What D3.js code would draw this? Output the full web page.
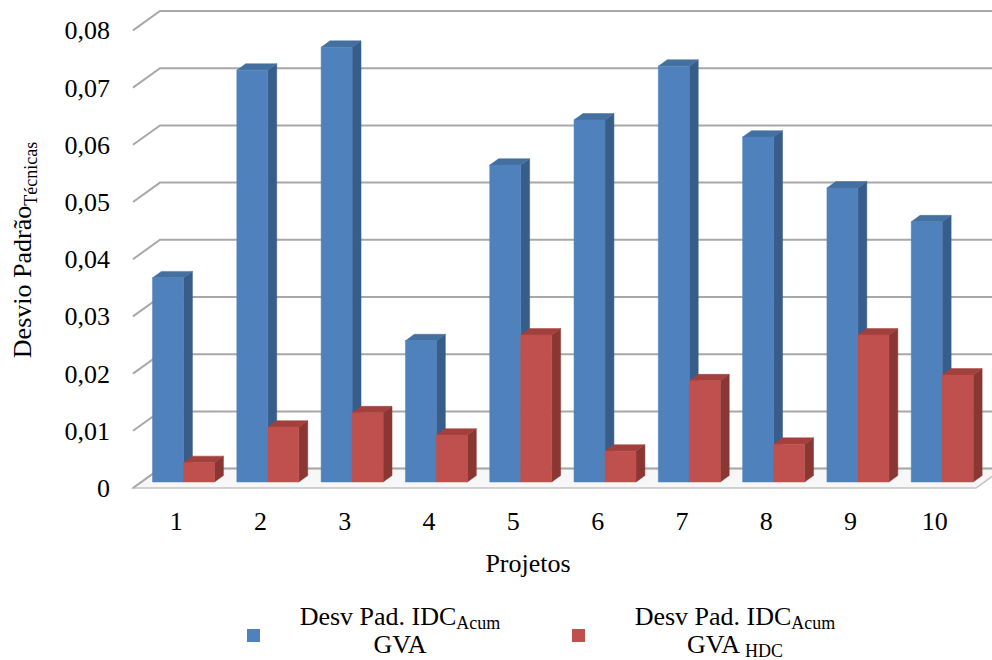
<!DOCTYPE html>
<html>
<head>
<meta charset="utf-8">
<script src="https://cdn.jsdelivr.net/npm/d3@7/dist/d3.min.js"></script>
<style>
  html, body { margin: 0; padding: 0; background: #ffffff; }
  svg { display: block; font-family: "Liberation Serif", "Times New Roman", serif; }
</style>
</head>
<body>
<svg id="chart" width="992" height="660"></svg>
<script>
// Projects on the category axis
const categories = ["1", "2", "3", "4", "5", "6", "7", "8", "9", "10"];
// Series keys and their values (standard deviation per project)
const seriesKeys = ["gva", "hdc"];
const gvaValues = [0.0357, 0.0720, 0.0760, 0.0247, 0.0554, 0.0633, 0.0727, 0.0603, 0.0514, 0.0455];
const hdcValues = [0.0034, 0.0096, 0.0121, 0.0082, 0.0257, 0.0054, 0.0177, 0.0066, 0.0257, 0.0187];
const yTicks = [0, 0.01, 0.02, 0.03, 0.04, 0.05, 0.06, 0.07, 0.08];
const yTickLabels = ["0", "0,01", "0,02", "0,03", "0,04", "0,05", "0,06", "0,07", "0,08"];

const svg = d3.select("#chart");

// Front plane of the 3D box and the depth vector toward the back wall
const frontLeft = 133, frontRight = 976, floorY = 488;
const depth = { dx: 27, dy: -19.4 };
const barDepth = [0.31, 0.64];

const x0 = d3.scaleBand().domain(categories).range([frontLeft, frontRight]);
const x1 = d3.scaleBand().domain(seriesKeys).range([0, x0.bandwidth()]).paddingOuter(0.36);
const y = d3.scaleLinear().domain([0, 0.08]).range([floorY, floorY - 457.6]);

// Project a front-plane point to the given depth fraction
const P = (px, py, d) => [px + d * depth.dx, py + d * depth.dy];

const colors = {
  gva: { front: "#4f81bd", side: "#375d8b", top: "#44709f" },
  hdc: { front: "#c0504d", side: "#8a3633", top: "#a1403d" }
};

// Floor slab
const floor = [P(frontLeft, floorY, 0), P(frontRight, floorY, 0), P(frontRight, floorY, 1), P(frontLeft, floorY, 1)];
svg.append("polygon")
  .attr("points", floor.map(p => p.join(",")).join(" "))
  .attr("fill", "#f7f7f7")
  .attr("stroke", "#c4c4c4")
  .attr("stroke-width", 1.5);

// Gridlines: left wall diagonals and back wall horizontals
const grid = svg.append("g").attr("stroke", "#a8a8a8").attr("stroke-width", 2).attr("fill", "none");
yTicks.forEach(t => {
  const a = P(frontLeft, y(t), 0), b = P(frontLeft, y(t), 1), c = P(frontRight + 40, y(t), 1);
  grid.append("polyline").attr("points", [a, b, c].map(p => p.join(",")).join(" "));
});

// Bars: front face, top face and right side face
const barsG = svg.append("g");
categories.forEach((cat, i) => {
  const vals = { gva: gvaValues[i], hdc: hdcValues[i] };
  seriesKeys.forEach(k => {
    const xl = x0(cat) + x1(k), xr = xl + x1.bandwidth();
    const yt = y(vals[k]), yb = y(0);
    const [d0, d1] = barDepth;
    const c = colors[k];
    const front = [P(xl, yt, d0), P(xr, yt, d0), P(xr, yb, d0), P(xl, yb, d0)];
    const top = [P(xl, yt, d0), P(xr, yt, d0), P(xr, yt, d1), P(xl, yt, d1)];
    const side = [P(xr, yt, d0), P(xr, yt, d1), P(xr, yb, d1), P(xr, yb, d0)];
    const poly = (pts, fill) => barsG.append("polygon")
      .attr("points", pts.map(p => p.join(",")).join(" "))
      .attr("fill", fill).attr("stroke", fill).attr("stroke-width", 0.5).attr("stroke-linejoin", "round");
    poly(side, c.side);
    poly(top, c.top);
    poly(front, c.front);
  });
});

// Y tick labels
svg.append("g").selectAll("text").data(yTicks).join("text")
  .attr("x", 110).attr("y", t => y(t) + 9)
  .attr("text-anchor", "end").attr("font-size", 26).attr("fill", "#000")
  .text((t, i) => yTickLabels[i]);

// X tick labels
svg.append("g").selectAll("text").data(categories).join("text")
  .attr("x", c => x0(c) + x0.bandwidth() / 2 + 1).attr("y", 530)
  .attr("text-anchor", "middle").attr("font-size", 26).attr("fill", "#000")
  .text(c => c);

// Axis titles
svg.append("text").attr("x", 528).attr("y", 572).attr("text-anchor", "middle")
  .attr("font-size", 26).text("Projetos");

const yTitle = svg.append("text")
  .attr("transform", "translate(31,250) rotate(-90)")
  .attr("text-anchor", "middle").attr("font-size", 26);
yTitle.append("tspan").text("Desvio Padrão");
yTitle.append("tspan").attr("font-size", 18).attr("dy", 6).text("Técnicas");

// Legend
const legend = [
  { key: "gva", sx: 247, cx: 400, line2: "GVA", sub2: null },
  { key: "hdc", sx: 572, cx: 735, line2: "GVA ", sub2: "HDC" }
];
legend.forEach(l => {
  svg.append("rect").attr("x", l.sx).attr("y", 629).attr("width", 13).attr("height", 13)
    .attr("fill", colors[l.key].front);
  const t1 = svg.append("text").attr("x", l.cx).attr("y", 625).attr("text-anchor", "middle").attr("font-size", 26);
  t1.append("tspan").text("Desv Pad. IDC");
  t1.append("tspan").attr("font-size", 18).attr("dy", 4).text("Acum");
  const t2 = svg.append("text").attr("x", l.cx).attr("y", 653).attr("text-anchor", "middle").attr("font-size", 26);
  t2.append("tspan").text(l.line2);
  if (l.sub2) t2.append("tspan").attr("font-size", 18).attr("dy", 4).text(l.sub2);
});
</script>
</body>
</html>
